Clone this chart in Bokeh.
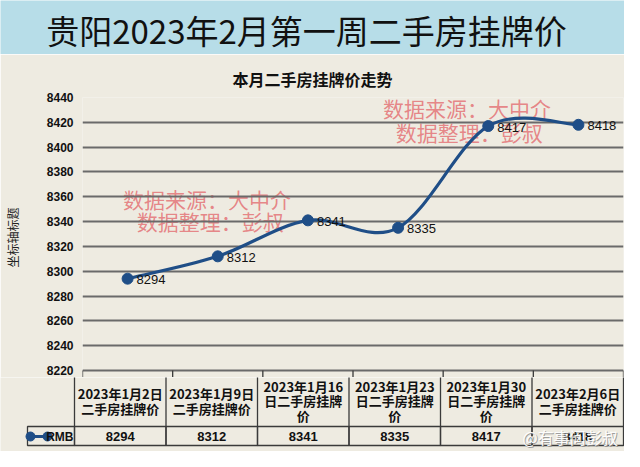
from bokeh.plotting import figure
from bokeh.layouts import column
from bokeh.models import Range1d, FixedTicker, Title
from bokeh.core.properties import value
from bokeh.embed import file_html
from bokeh.resources import INLINE

# ---------------- data ----------------
title_text = "贵阳2023年2月第一周二手房挂牌价"
subtitle_text = "本月二手房挂牌价走势"
y_axis_title = "坐标轴标题"
series_name = "RMB"
categories = [
    "2023年1月2日\n二手房挂牌价",
    "2023年1月9日\n二手房挂牌价",
    "2023年1月16\n日二手房挂牌\n价",
    "2023年1月23\n日二手房挂牌\n价",
    "2023年1月30\n日二手房挂牌\n价",
    "2023年2月6日\n二手房挂牌价",
]
prices = [8294, 8312, 8341, 8335, 8417, 8418]
y_ticks = [8220, 8240, 8260, 8280, 8300, 8320, 8340, 8360, 8380, 8400, 8420, 8440]
watermark_lines = ["数据来源：大中介", "数据整理：彭叔"]
corner_mark = "@有事问彭叔"

# ---------------- style ----------------
BANNER = "#b7dde8"
BG = "#eeebe1"
LINE = "#1f4e87"
GRID = "#6a6a6a"
BORDER = "#3a3a3a"
CJK = "Noto Sans CJK SC"
LAT = "Liberation Sans"

W = 624
n = len(prices)
Y0, Y1 = y_ticks[0], y_ticks[-1]

# reference-pixel geometry (page coords)
FL, FR, FT, FB = 82, 631, 105, 378
COLW = (FR - FL) / n
PX_PER_UNIT = (FB - FT) / (Y1 - Y0)
MAIN_TOP, MAIN_BOT, PAGE_BOT = 62, 385, 459


def dx(px):
    return (px - FL) / COLW


def dy(py):
    return Y1 - (py - FT) / PX_PER_UNIT


# ---------------- banner ----------------
banner = figure(width=W, height=MAIN_TOP - 8, x_range=Range1d(8, 632), y_range=Range1d(62, 8),
                toolbar_location=None, output_backend="svg",
                x_axis_location=None, y_axis_location=None, min_border=0,
                background_fill_color=BANNER, border_fill_color=BANNER)
banner.frame_align = False
banner.grid.visible = False
banner.outline_line_color = None
banner.text(x=[314], y=[37], text=[title_text], text_align="center",
            text_baseline="middle", text_font=value(CJK), text_font_size="33px",
            text_color="#111111")

# ---------------- main chart ----------------
p = figure(width=W, height=MAIN_BOT - MAIN_TOP, x_range=Range1d(0, n),
           y_range=Range1d(dy(MAIN_BOT), Y1),
           toolbar_location=None, output_backend="svg", x_axis_location=None,
           min_border_left=FL - 8, min_border_right=632 - FR,
           min_border_top=FT - MAIN_TOP, min_border_bottom=0,
           background_fill_color=BG, border_fill_color=BG)
p.frame_align = False
p.outline_line_color = None
p.xgrid.visible = False
p.ygrid.ticker = FixedTicker(ticks=y_ticks)
p.ygrid.grid_line_color = GRID
p.ygrid.grid_line_width = 2

p.add_layout(Title(text=subtitle_text, align="left", offset=150, standoff=13,
                   text_font=CJK, text_font_size="16px", text_font_style="bold",
                   text_color="#111111"), "above")

ax = p.yaxis[0]
ax.ticker = FixedTicker(ticks=y_ticks)
ax.axis_line_color = None
ax.major_tick_line_color = None
ax.minor_tick_line_color = None
ax.major_tick_out = 0
ax.major_tick_in = 0
ax.major_label_standoff = 9
ax.major_label_text_font = LAT
ax.major_label_text_font_size = "12px"
ax.major_label_text_font_style = "bold"
ax.major_label_text_color = "#111111"
ax.axis_label = y_axis_title
ax.axis_label_text_font = CJK
ax.axis_label_text_font_size = "12px"
ax.axis_label_text_font_style = "normal"
ax.axis_label_text_color = "#222222"
ax.axis_label_standoff = 23

# red watermark texts (drawn beneath the grid lines)
wm_x = [dx(123), dx(137), dx(387), dx(400)]
wm_y = [dy(206), dy(228), dy(115), dy(139)]
wm_t = [watermark_lines[0], watermark_lines[1], watermark_lines[0], watermark_lines[1]]
p.text(wm_x, wm_y, text=wm_t, text_baseline="middle", text_font=value(CJK),
       text_font_size="21px", text_color="#e0444c", text_alpha=0.62, level="image")

# table column rules continuing into the bottom strip of the chart figure
p.segment(x0=list(range(n + 1)), y0=[Y0] * (n + 1), x1=list(range(n + 1)),
          y1=[dy(MAIN_BOT)] * (n + 1), line_color=BORDER, line_width=1.3)

xs = [i + 0.5 for i in range(n)]
pts = list(zip(xs, prices))
x0s, y0s, x1s, y1s, cx0, cy0, cx1, cy1 = [], [], [], [], [], [], [], []
for i in range(n - 1):
    pm = pts[max(i - 1, 0)]
    pa = pts[i]
    pb = pts[i + 1]
    pn = pts[min(i + 2, n - 1)]
    x0s.append(pa[0]); y0s.append(pa[1])
    x1s.append(pb[0]); y1s.append(pb[1])
    cx0.append(pa[0] + (pb[0] - pm[0]) / 6); cy0.append(pa[1] + (pb[1] - pm[1]) / 6)
    cx1.append(pb[0] - (pn[0] - pa[0]) / 6); cy1.append(pb[1] - (pn[1] - pa[1]) / 6)
p.bezier(x0=x0s, y0=y0s, x1=x1s, y1=y1s, cx0=cx0, cy0=cy0, cx1=cx1, cy1=cy1,
         line_color=LINE, line_width=3.2)
p.scatter(xs, prices, size=11, color=LINE)
p.text(xs, prices, text=[str(v) for v in prices], x_offset=9, y_offset=1,
       text_baseline="middle", text_font=value(LAT), text_font_size="13px",
       text_color="#111111")

# ---------------- data table ----------------
t = figure(width=W, height=PAGE_BOT - MAIN_BOT, x_range=Range1d(dx(8), dx(632)),
           y_range=Range1d(PAGE_BOT, MAIN_BOT),
           toolbar_location=None, output_backend="svg",
           x_axis_location=None, y_axis_location=None, min_border=0,
           background_fill_color=BG, border_fill_color=BG)
t.frame_align = False
t.grid.visible = False
t.outline_line_color = None
HEAD_B, VAL_B = 434, 453
t.segment(x0=list(range(n + 1)), y0=[MAIN_BOT - 1] * (n + 1), x1=list(range(n + 1)),
          y1=[HEAD_B] * (n + 1), line_color=BORDER, line_width=1.3)
t.quad(left=[dx(35)] + list(range(n)), right=[0] + list(range(1, n + 1)),
       top=HEAD_B, bottom=VAL_B, fill_color=None, line_color=BORDER, line_width=1.3)
t.text(xs, [408.5] * n, text=categories, text_align="center", text_baseline="middle",
       text_font=value(CJK), text_font_size="13px", text_font_style="bold",
       text_line_height=0.78, text_color="#111111")
t.text(xs, [444] * n, text=[str(v) for v in prices], text_align="center",
       text_baseline="middle", text_font=value(LAT), text_font_size="13px",
       text_font_style="bold", text_color="#111111")
# legend key + series name
t.line([dx(36), dx(56)], [444, 444], line_color=LINE, line_width=3)
t.scatter([dx(38), dx(55)], [444, 444], size=9, color=LINE)
t.text([dx(81)], [444], text=[series_name], text_align="right", text_baseline="middle",
       text_font=value(LAT), text_font_size="12px", text_font_style="bold",
       text_color="#111111")
# platform watermark
t.text([dx(530) + 1 / COLW], [445], text=[corner_mark], text_baseline="middle",
       text_font=value(CJK), text_font_size="16px", text_color="#8a8a8a", text_alpha=0.8)
t.text([dx(530)], [444], text=[corner_mark], text_baseline="middle",
       text_font=value(CJK), text_font_size="16px", text_color="#ffffff", text_alpha=0.95)

layout = column(banner, p, t, spacing=0)
open("out.html", "w").write(file_html(layout, INLINE))
